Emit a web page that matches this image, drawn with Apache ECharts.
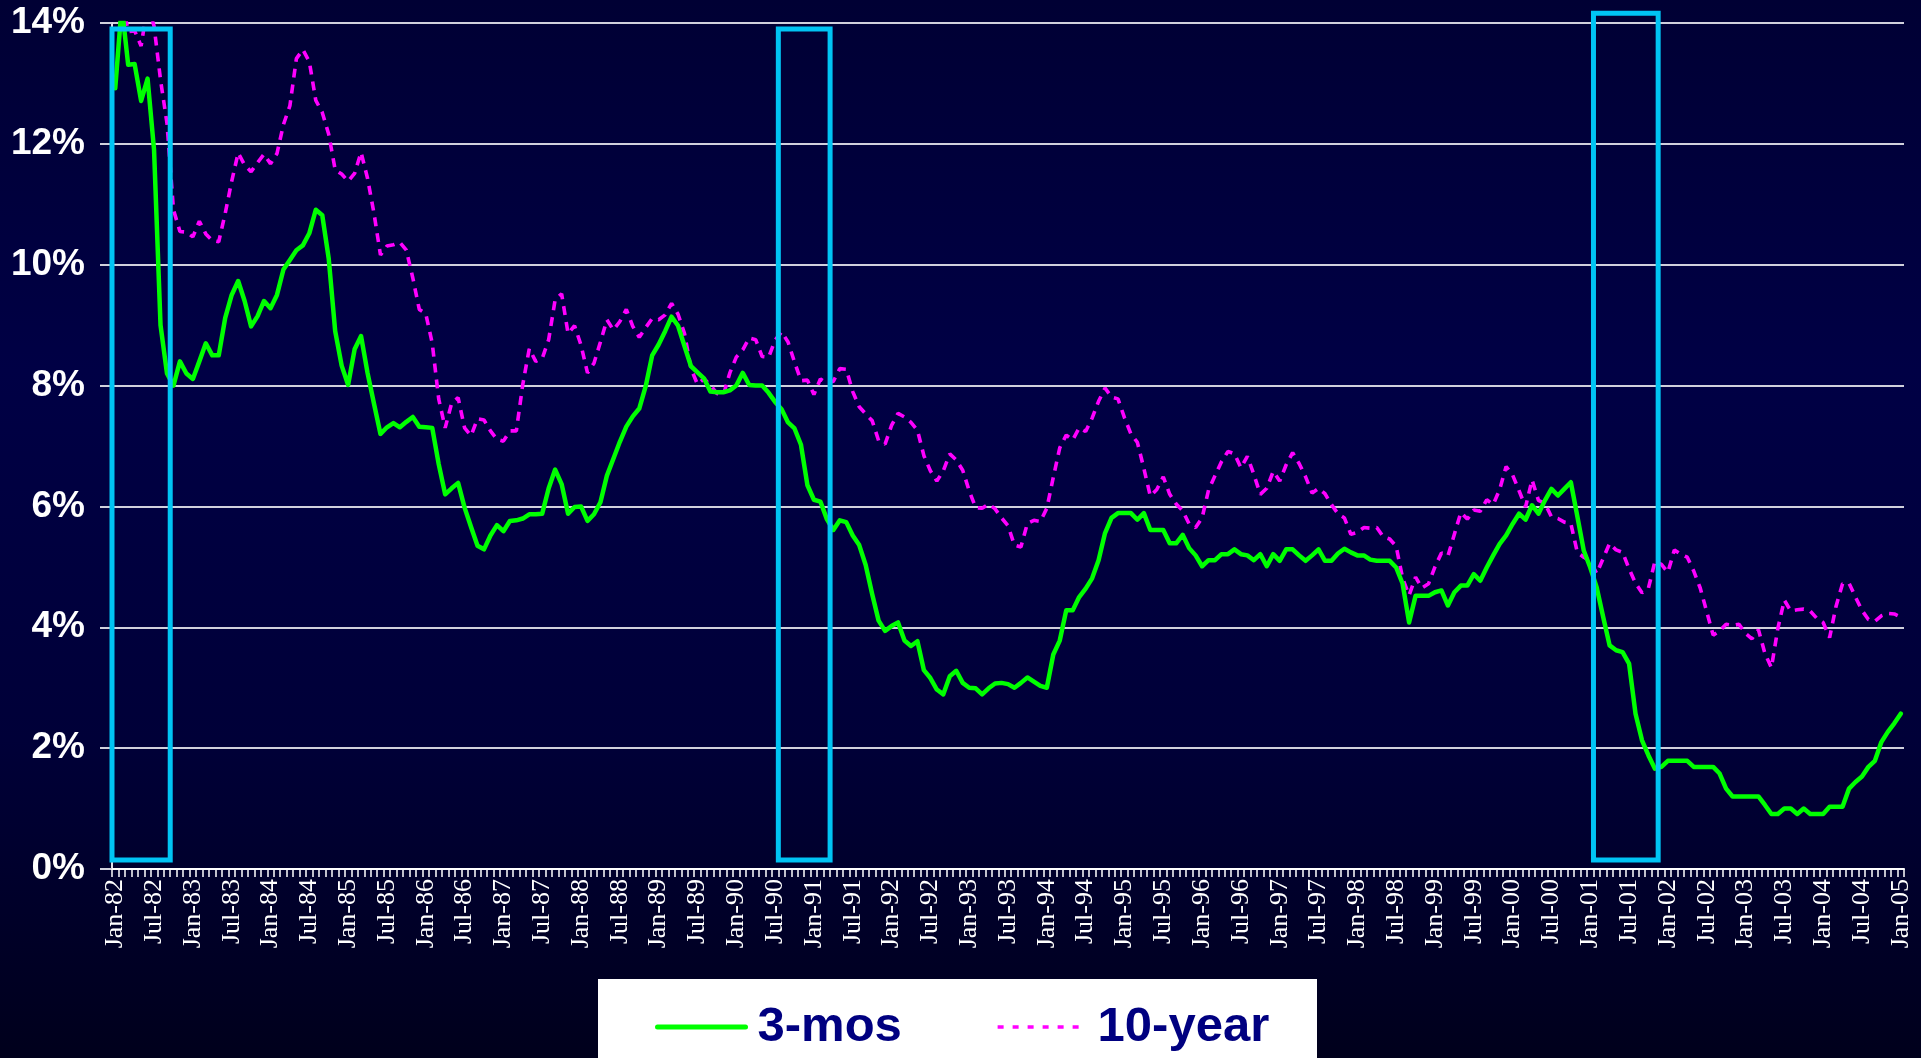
<!DOCTYPE html>
<html>
<head>
<meta charset="utf-8">
<title>3-month vs 10-year Treasury yields, 1982-2005</title>
<script src="https://cdn.jsdelivr.net/npm/echarts@6/dist/echarts.min.js"></script>
<style>
  html, body { margin: 0; padding: 0; background: #000030; }
  #chart { width: 1921px; height: 1058px; }
</style>
</head>
<body>
<div id="chart"></div>
<script>
// Monthly categories, Jan-82 .. Jan-05
const monthNames = ['Jan', 'Feb', 'Mar', 'Apr', 'May', 'Jun', 'Jul', 'Aug', 'Sep', 'Oct', 'Nov', 'Dec'];
const firstYear = 1982;
const lastYear = 2005;
const months = [];
for (let y = firstYear; y <= lastYear; y++) {
  for (let i = 0; i < 12; i++) {
    if (y === lastYear && i > 0) break;
    months.push(monthNames[i] + '-' + String(y % 100).padStart(2, '0'));
  }
}

// 3-month Treasury yield (%), one row per year of categories
const threeMonth = [
  12.92, 14.28, 13.31, 13.32, 12.71, 13.08, 11.90, 9.00, 8.20, 8.00, 8.40, 8.20,   // 1982
  8.11, 8.40, 8.70, 8.50, 8.50, 9.12, 9.50, 9.73, 9.40, 8.98, 9.15, 9.40,          // 1983
  9.28, 9.50, 9.92, 10.08, 10.24, 10.32, 10.52, 10.91, 10.82, 10.10, 8.90, 8.33,   // 1984
  8.01, 8.60, 8.82, 8.21, 7.70, 7.20, 7.31, 7.38, 7.31, 7.40, 7.48, 7.32,          // 1985
  7.31, 7.30, 6.70, 6.20, 6.30, 6.39, 5.98, 5.66, 5.35, 5.29, 5.52, 5.69,          // 1986
  5.59, 5.76, 5.77, 5.80, 5.87, 5.87, 5.88, 6.30, 6.61, 6.37, 5.88, 5.99,          // 1987
  6.00, 5.76, 5.87, 6.07, 6.51, 6.79, 7.07, 7.32, 7.49, 7.62, 7.99, 8.50,          // 1988
  8.68, 8.90, 9.14, 8.99, 8.65, 8.32, 8.22, 8.12, 7.90, 7.89, 7.89, 7.92,          // 1989
  8.00, 8.21, 8.01, 8.00, 8.00, 7.88, 7.73, 7.61, 7.39, 7.29, 7.02, 6.35,          // 1990
  6.11, 6.08, 5.79, 5.61, 5.77, 5.74, 5.52, 5.36, 5.03, 4.55, 4.11, 3.94,          // 1991
  4.02, 4.08, 3.78, 3.69, 3.77, 3.29, 3.16, 2.97, 2.89, 3.19, 3.28, 3.08,          // 1992
  3.00, 2.99, 2.89, 2.99, 3.07, 3.08, 3.06, 3.00, 3.08, 3.17, 3.10, 3.03,          // 1993
  3.00, 3.55, 3.78, 4.28, 4.28, 4.50, 4.64, 4.81, 5.11, 5.56, 5.81, 5.89,          // 1994
  5.89, 5.89, 5.78, 5.89, 5.61, 5.61, 5.61, 5.39, 5.39, 5.53, 5.31, 5.19,          // 1995
  5.01, 5.11, 5.11, 5.21, 5.21, 5.29, 5.21, 5.19, 5.11, 5.21, 5.01, 5.21,          // 1996
  5.10, 5.29, 5.29, 5.19, 5.10, 5.19, 5.29, 5.10, 5.10, 5.22, 5.30, 5.24,          // 1997
  5.19, 5.19, 5.12, 5.10, 5.10, 5.10, 4.99, 4.72, 4.08, 4.52, 4.52, 4.52,          // 1998
  4.58, 4.61, 4.36, 4.58, 4.69, 4.69, 4.88, 4.77, 4.99, 5.19, 5.38, 5.52,          // 1999
  5.71, 5.88, 5.78, 6.02, 5.88, 6.10, 6.29, 6.18, 6.29, 6.40, 5.84, 5.27,          // 2000
  4.99, 4.66, 4.17, 3.70, 3.62, 3.59, 3.40, 2.57, 2.13, 1.88, 1.66, 1.69,          // 2001
  1.79, 1.79, 1.79, 1.79, 1.69, 1.69, 1.69, 1.69, 1.58, 1.33, 1.20, 1.20,          // 2002
  1.20, 1.20, 1.20, 1.06, 0.91, 0.91, 1.00, 1.00, 0.91, 1.00, 0.91, 0.91,          // 2003
  0.91, 1.03, 1.03, 1.03, 1.33, 1.44, 1.53, 1.69, 1.79, 2.10, 2.27, 2.41,          // 2004
  2.57                                                                             // 2005
];

// 10-year Treasury yield (%)
const tenYear = [
  14.59, 14.43, 13.86, 13.87, 13.62, 14.30, 13.95, 13.06, 12.34, 10.91, 10.55, 10.54, // 1982
  10.46, 10.72, 10.51, 10.40, 10.38, 10.85, 11.38, 11.85, 11.65, 11.54, 11.69, 11.83, // 1983
  11.67, 11.84, 12.32, 12.63, 13.41, 13.56, 13.36, 12.72, 12.52, 12.16, 11.57, 11.50, // 1984
  11.38, 11.51, 11.86, 11.43, 10.85, 10.16, 10.31, 10.33, 10.37, 10.24, 9.78, 9.26,   // 1985
  9.19, 8.70, 7.78, 7.30, 7.71, 7.80, 7.30, 7.17, 7.45, 7.43, 7.25, 7.11,             // 1986
  7.08, 7.25, 7.25, 8.02, 8.61, 8.40, 8.45, 8.76, 9.42, 9.52, 8.86, 8.99,             // 1987
  8.67, 8.21, 8.37, 8.72, 9.09, 8.92, 9.06, 9.26, 8.98, 8.80, 8.96, 9.11,             // 1988
  9.09, 9.17, 9.36, 9.18, 8.86, 8.28, 8.02, 8.11, 8.01, 7.87, 7.84, 8.21,             // 1989
  8.47, 8.59, 8.79, 8.76, 8.48, 8.47, 8.75, 8.89, 8.72, 8.39, 8.08, 8.09,             // 1990
  7.85, 8.11, 8.04, 8.07, 8.28, 8.27, 7.90, 7.65, 7.53, 7.42, 7.09, 7.03,             // 1991
  7.34, 7.54, 7.48, 7.39, 7.26, 6.84, 6.59, 6.42, 6.59, 6.87, 6.77, 6.60,             // 1992
  6.26, 5.98, 5.97, 6.04, 5.96, 5.81, 5.68, 5.36, 5.33, 5.72, 5.77, 5.75,             // 1993
  5.97, 6.48, 6.97, 7.18, 7.10, 7.30, 7.24, 7.46, 7.74, 7.96, 7.81, 7.78,             // 1994
  7.47, 7.20, 7.06, 6.63, 6.17, 6.28, 6.49, 6.20, 6.04, 5.93, 5.71, 5.65,             // 1995
  5.81, 6.27, 6.51, 6.74, 6.91, 6.87, 6.64, 6.83, 6.53, 6.20, 6.30, 6.58,             // 1996
  6.42, 6.69, 6.89, 6.71, 6.49, 6.22, 6.30, 6.21, 6.03, 5.88, 5.81, 5.54,             // 1997
  5.57, 5.65, 5.64, 5.65, 5.50, 5.46, 5.34, 4.81, 4.53, 4.83, 4.65, 4.72,             // 1998
  5.00, 5.23, 5.18, 5.54, 5.90, 5.79, 5.94, 5.92, 6.11, 6.03, 6.28, 6.66,             // 1999
  6.52, 6.26, 5.99, 6.44, 6.10, 6.05, 5.83, 5.80, 5.74, 5.72, 5.24, 5.16,             // 2000
  5.10, 4.89, 5.14, 5.39, 5.28, 5.24, 4.97, 4.73, 4.57, 4.65, 5.09, 5.04,             // 2001
  4.91, 5.28, 5.21, 5.16, 4.93, 4.65, 4.26, 3.87, 3.94, 4.05, 4.03, 4.05,             // 2002
  3.90, 3.81, 3.96, 3.57, 3.33, 3.98, 4.45, 4.27, 4.29, 4.30, 4.27, 4.15,             // 2003
  4.08, 3.83, 4.35, 4.72, 4.73, 4.50, 4.28, 4.13, 4.10, 4.19, 4.23, 4.22,             // 2004
  4.17                                                                                // 2005
];

// Recession frames: first month, last month, lower and upper yield bound (%)
const recessions = [
  ['Jan-82', 'Sep-82', 0.15, 13.9],
  ['Aug-90', 'Mar-91', 0.15, 13.9],
  ['Feb-01', 'Nov-01', 0.15, 14.16]
];

const sansBold = '"Liberation Sans", Arial, sans-serif';

const chart = echarts.init(document.getElementById('chart'), null, { renderer: 'canvas' });

chart.setOption({
  animation: false,
  backgroundColor: {
    type: 'linear', x: 0, y: 0, x2: 0, y2: 1,
    colorStops: [
      { offset: 0, color: '#000034' },
      { offset: 0.35, color: '#000045' },
      { offset: 0.7, color: '#000038' },
      { offset: 1, color: '#00001c' }
    ]
  },
  grid: { left: 112, right: 17, top: 23, bottom: 189, containLabel: false },
  graphic: [{
    type: 'rect',
    left: 598, top: 979,
    shape: { width: 719, height: 100 },
    style: { fill: '#ffffff' },
    silent: true,
    z: 0
  }],
  legend: {
    data: [
      { name: '3-mos', lineStyle: { width: 5, cap: 'round' } },
      { name: '10-year', lineStyle: { width: 3.6, type: [6, 9] } }
    ],
    left: 650,
    top: 992,
    itemWidth: 88,
    itemHeight: 14,
    itemGap: 94,
    selectedMode: false,
    itemStyle: { opacity: 0 },
    textStyle: {
      color: '#000080',
      fontFamily: sansBold,
      fontWeight: 'bold',
      fontSize: 49,
      lineHeight: 60,
      padding: [0, 0, 0, 7]
    },
    z: 10
  },
  xAxis: {
    type: 'category',
    data: months,
    boundaryGap: true,
    axisLine: { show: true, lineStyle: { color: '#ffffff', width: 2 } },
    axisTick: { show: true, interval: 0, length: 8, lineStyle: { color: '#ffffff', width: 1.5 } },
    axisLabel: {
      interval: 5,
      rotate: 90,
      margin: 10,
      color: '#ffffff',
      fontFamily: '"Liberation Serif", "Times New Roman", serif',
      fontSize: 26
    },
    splitLine: { show: false }
  },
  yAxis: {
    type: 'value',
    min: 0,
    max: 14,
    interval: 2,
    axisLine: { show: true, lineStyle: { color: '#e0e0e8', width: 2 } },
    axisTick: { show: true, inside: false, length: 12, lineStyle: { color: '#d0d0dc', width: 2 } },
    axisLabel: {
      formatter: '{value}%',
      margin: 27,
      color: '#ffffff',
      fontFamily: sansBold,
      fontWeight: 'bold',
      fontSize: 37
    },
    splitLine: { show: true, lineStyle: { color: '#d0d0dc', width: 2 } }
  },
  series: [
    {
      name: '10-year',
      type: 'line',
      data: tenYear,
      symbol: 'none',
      z: 2,
      lineStyle: { color: '#ff00ff', width: 3.6, type: [9, 7] },
      itemStyle: { color: '#ff00ff' }
    },
    {
      name: '3-mos',
      type: 'line',
      data: threeMonth,
      symbol: 'none',
      z: 3,
      lineStyle: { color: '#00ff00', width: 4.5, cap: 'round', join: 'round' },
      itemStyle: { color: '#00ff00' }
    },
    {
      name: 'recession',
      type: 'custom',
      data: recessions,
      encode: { x: [0, 1], y: [2, 3] },
      silent: true,
      clip: false,
      z: 4,
      renderItem: function (params, api) {
        const topLeft = api.coord([api.value(0), api.value(3)]);
        const bottomRight = api.coord([api.value(1), api.value(2)]);
        const half = api.size([1, 0])[0] / 2;
        const x0 = topLeft[0] - half;
        const x1 = bottomRight[0] + half;
        return {
          type: 'rect',
          shape: { x: x0, y: topLeft[1], width: x1 - x0, height: bottomRight[1] - topLeft[1] },
          style: { fill: null, stroke: '#00c4f4', lineWidth: 5 }
        };
      }
    }
  ]
});
</script>
</body>
</html>
